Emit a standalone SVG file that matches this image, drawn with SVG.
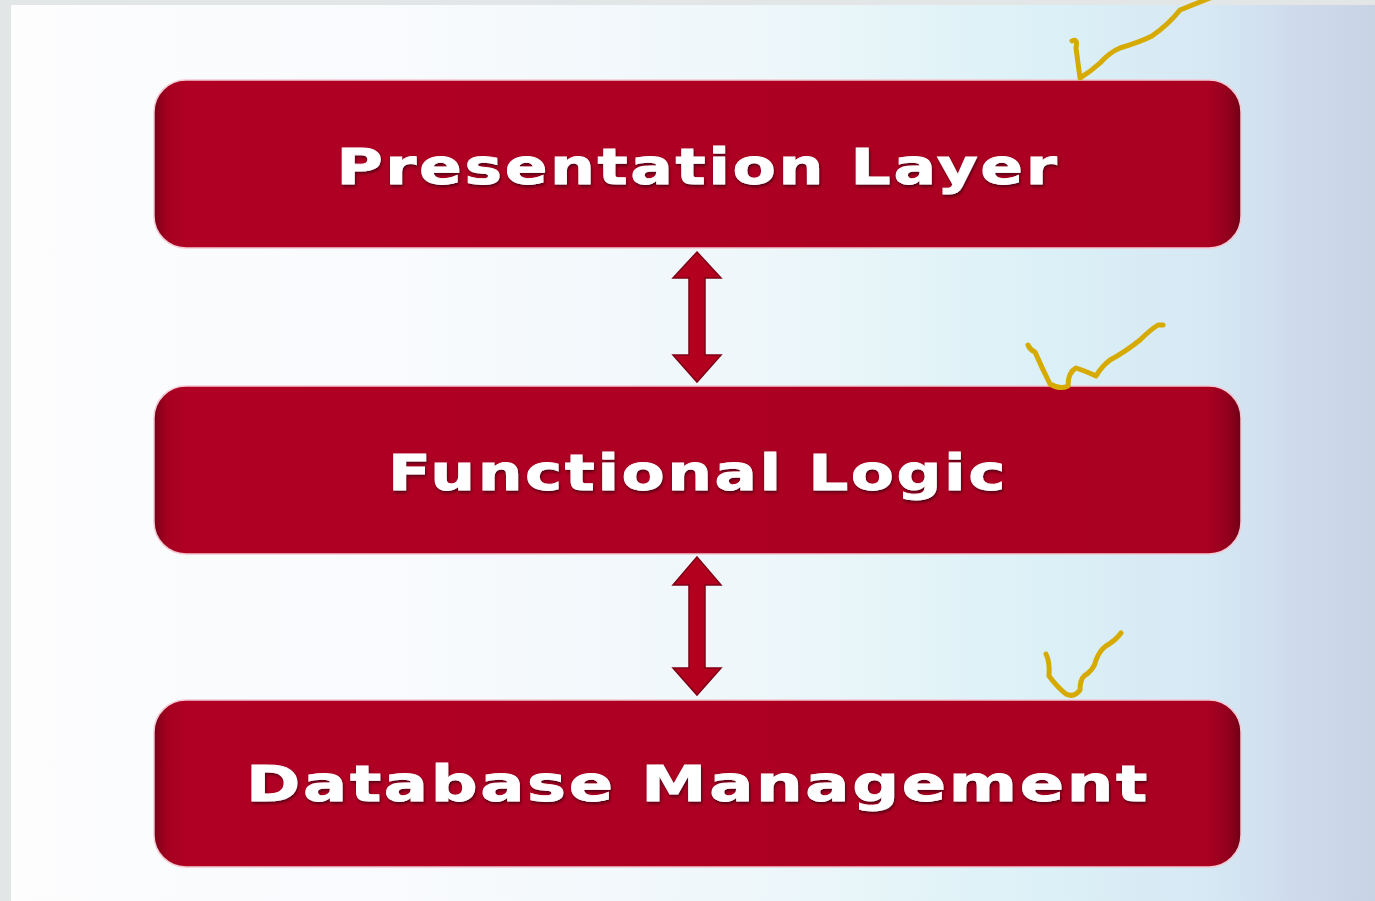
<svg xmlns="http://www.w3.org/2000/svg" width="1375" height="901" viewBox="0 0 1375 901">
  <defs>
    <linearGradient id="bg" x1="0" y1="0" x2="1" y2="0">
      <stop offset="0" stop-color="#fdfdfe"/>
      <stop offset="0.3" stop-color="#f8fafd"/>
      <stop offset="0.55" stop-color="#eef7fa"/>
      <stop offset="0.75" stop-color="#dcf1f7"/>
      <stop offset="0.88" stop-color="#d6e8f4"/>
      <stop offset="0.94" stop-color="#cfdbec"/>
      <stop offset="1" stop-color="#c8d4e4"/>
    </linearGradient>
    <radialGradient id="bgTop" cx="0.5" cy="0" r="0.5">
      <stop offset="0" stop-color="#d8dde3" stop-opacity="0.9"/>
      <stop offset="1" stop-color="#d8dde3" stop-opacity="0"/>
    </radialGradient>
    <linearGradient id="boxFill" x1="0" y1="0" x2="1" y2="0">
      <stop offset="0" stop-color="#7a0018"/>
      <stop offset="0.012" stop-color="#a50020"/>
      <stop offset="0.03" stop-color="#b00024"/>
      <stop offset="0.97" stop-color="#aa0021"/>
      <stop offset="0.99" stop-color="#8e001c"/>
      <stop offset="1" stop-color="#6e0016"/>
    </linearGradient>
    <filter id="shadow" x="-5%" y="-20%" width="110%" height="140%">
      <feDropShadow dx="1" dy="2" stdDeviation="1.5" flood-color="#3a0008" flood-opacity="0.8"/>
    </filter>
  </defs>
  <style>
    .box { fill: url(#boxFill); stroke: #f2c8d2; stroke-width: 1.5; }
    .label { font-family: "DejaVu Sans", Verdana, sans-serif; font-weight: bold; font-size: 49px; letter-spacing: 2px; fill: #ffffff; stroke: #ffffff; stroke-width: 0.8; text-anchor: middle; filter: url(#shadow); }
    .arrow { fill: #b3001f; stroke: #7d0015; stroke-width: 1.5; }
    .check { fill: none; stroke: #d6aa00; stroke-width: 5; stroke-linecap: round; stroke-linejoin: round; }
  </style>

  <rect x="0" y="0" width="1375" height="901" fill="#e3e6e6"/>
  <rect x="11" y="5" width="1364" height="896" fill="url(#bg)"/>
  <ellipse cx="1150" cy="5" rx="420" ry="170" fill="url(#bgTop)"/>

  <g id="node-presentation">
    <rect class="box" x="154" y="80" width="1087" height="168" rx="32" ry="32"/>
    <text class="label" x="698" y="184" textLength="723" lengthAdjust="spacingAndGlyphs">Presentation Layer</text>
  </g>
  <g id="node-functional">
    <rect class="box" x="154" y="386" width="1087" height="168" rx="32" ry="32"/>
    <text class="label" x="698" y="490" textLength="620" lengthAdjust="spacingAndGlyphs">Functional Logic</text>
  </g>
  <g id="node-database">
    <rect class="box" x="154" y="700" width="1087" height="167" rx="32" ry="32"/>
    <text class="label" x="698" y="801" textLength="904" lengthAdjust="spacingAndGlyphs">Database Management</text>
  </g>

  <g id="connectors">
    <path class="arrow" d="M697,252 L721,278 L705,278 L705,355 L721,355 L697,382 L673,355 L689,355 L689,278 L673,278 Z"/>
    <path class="arrow" d="M697,557 L721,585 L705,585 L705,668 L721,668 L697,695 L673,668 L689,668 L689,585 L673,585 Z"/>
  </g>

  <g id="annotations">
    <path class="check" d="M1072,41 Q1078,38 1076,48 L1080,78 Q1090,72 1100,63 Q1110,52 1120,48 Q1140,42 1152,36 Q1168,25 1180,10 Q1195,4 1210,-2"/>
    <path class="check" d="M1028,345 Q1030,350 1035,352 Q1042,368 1050,384 Q1060,390 1068,386 Q1068,372 1076,368 Q1088,372 1096,376 Q1102,366 1110,360 Q1125,352 1140,340 Q1150,330 1158,325 L1163,325"/>
    <path class="check" d="M1046,654 Q1050,662 1049,676 Q1058,688 1066,694 Q1074,698 1080,690 Q1080,680 1084,676 Q1094,670 1096,660 Q1100,650 1106,646 Q1116,640 1121,633"/>
  </g>
</svg>
